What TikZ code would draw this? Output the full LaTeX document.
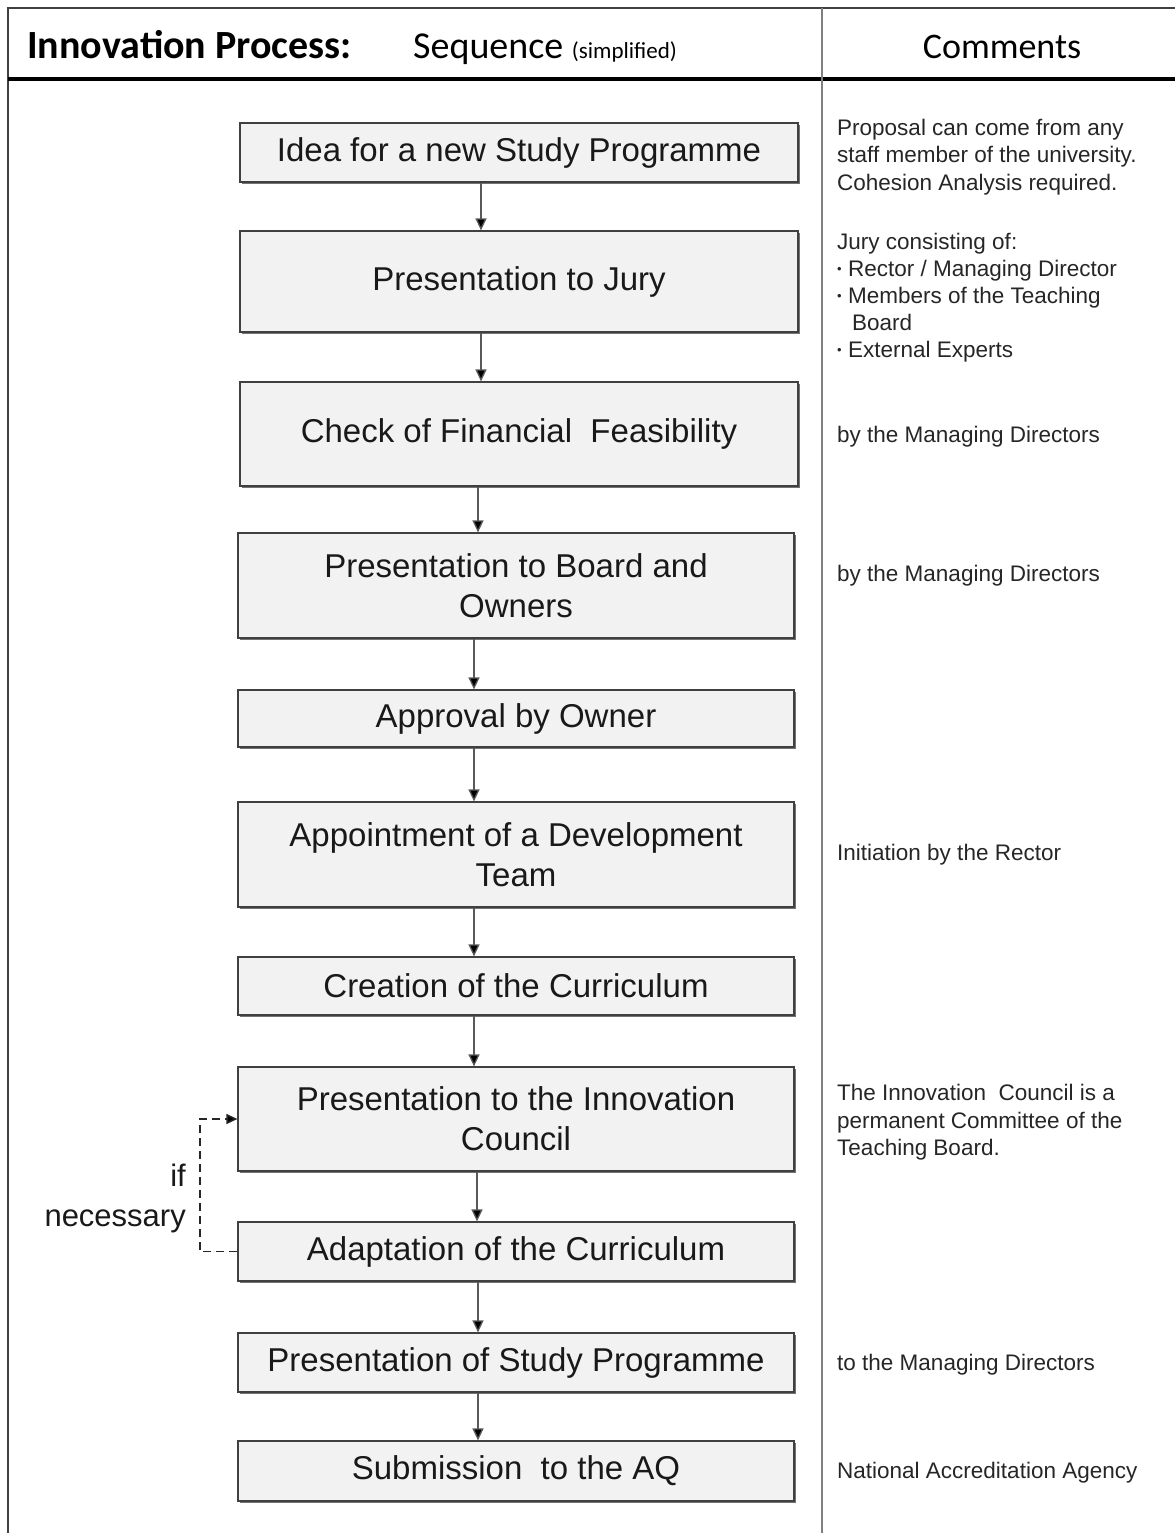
\documentclass[tikz,border=0pt]{standalone}
\usepackage{fontspec}
\setmainfont{Liberation Sans}
\newfontfamily\hdrfont{Carlito}
\usetikzlibrary{arrows.meta,shadows}
\newcommand{\smallbul}{\raisebox{0.25ex}{\fontsize{13}{13}\selectfont\textbullet}}
\begin{document}
\begin{tikzpicture}[x=1pt,y=-1pt,
  stepbox/.style={draw=black!75, line width=1.2pt, fill=black!5, inner sep=0pt,
    align=center, font=\fontsize{33}{40}\selectfont, text=black!90,
    drop shadow={shadow xshift=1.6pt, shadow yshift=-1.6pt, fill=black!55, opacity=1}},
  arr/.style={draw=black!65, line width=1.3pt, -{Triangle[length=12pt,width=11pt,fill=black]}},
  loop/.style={draw=black!85, line width=1.5pt, dash pattern=on 8pt off 5pt, -{Triangle[length=11pt,width=10pt,fill=black]}},
  cmt/.style={anchor=base west, inner sep=0pt, font=\fontsize{22.5}{27}\selectfont, text=black!85},
  frame/.style={draw=black!75, line width=2.5pt},
  ]
\useasboundingbox (0,0) rectangle (1175,1533);
% frame
\draw[frame] (8,1533) -- (8,8) -- (1175,8);
\draw[draw=black, line width=4.5pt] (8,79) -- (1175,79);
\draw[draw=black!50, line width=2pt] (822,8) -- (822,1533);
% header
\node[anchor=base west, inner sep=0pt, font=\hdrfont\bfseries\fontsize{40}{44}\selectfont] (h1) at (27,59) {Innovation Process:};
\node[anchor=base west, inner sep=0pt, font=\hdrfont\fontsize{38}{42}\selectfont] (h2) at (413,59) {Sequence {\fontsize{23}{25}\selectfont (simplified)}};
\node[anchor=base, inner sep=0pt, font=\hdrfont\fontsize{36}{40}\selectfont] (h3) at (1002,59) {Comments};
% steps
\node[stepbox, minimum width=558pt, minimum height=59pt] (n1) at (519,152.5) {Idea for a new Study Programme};
\node[stepbox, minimum width=558pt, minimum height=101pt] (n2) at (519,281.5) {Presentation to Jury};
\node[stepbox, minimum width=558pt, minimum height=104pt] (n3) at (519,434) {Check of Financial\ \ Feasibility};
\node[stepbox, minimum width=556pt, minimum height=105pt] (n4) at (516,585.5) {Presentation to Board and\\Owners};
\node[stepbox, minimum width=556pt, minimum height=57pt] (n5) at (516,718.5) {Approval by Owner};
\node[stepbox, minimum width=556pt, minimum height=105pt] (n6) at (516,854.5) {Appointment of a Development\\Team};
\node[stepbox, minimum width=556pt, minimum height=58pt] (n7) at (516,986) {Creation of the Curriculum};
\node[stepbox, minimum width=556pt, minimum height=104pt] (n8) at (516,1119) {Presentation to the Innovation\\Council};
\node[stepbox, minimum width=556pt, minimum height=59pt] (n9) at (516,1251.5) {Adaptation of the Curriculum};
\node[stepbox, minimum width=556pt, minimum height=59pt] (n10) at (516,1362.5) {Presentation of Study Programme};
\node[stepbox, minimum width=556pt, minimum height=60pt] (n11) at (516,1471) {Submission\ \ to the AQ};
% arrow x positions
\coordinate (xa) at (481,0);
\coordinate (xb) at (478,0);
\coordinate (xc) at (474,0);
\coordinate (xd) at (477,0);
\draw[arr] (n1.south -| xa) -- (n2.north -| xa);
\draw[arr] (n2.south -| xa) -- (n3.north -| xa);
\draw[arr] (n3.south -| xb) -- (n4.north -| xb);
\draw[arr] (n4.south -| xc) -- (n5.north -| xc);
\draw[arr] (n5.south -| xc) -- (n6.north -| xc);
\draw[arr] (n6.south -| xc) -- (n7.north -| xc);
\draw[arr] (n7.south -| xc) -- (n8.north -| xc);
\draw[arr] (n8.south -| xd) -- (n9.north -| xd);
\draw[arr] (n9.south -| xb) -- (n10.north -| xb);
\draw[arr] (n10.south -| xb) -- (n11.north -| xb);
% feedback loop
\coordinate (xl) at (200,0);
\draw[loop] (n9.west) -- (n9.west -| xl) |- (n8.west);
\node[anchor=east, align=right, inner sep=0pt, font=\fontsize{31}{40}\selectfont, text=black!90] (ifn) at (186,1198) {if\\necessary};
% comments
\node[cmt] (c1) at (837,136) {Proposal can come from any};
\node[cmt] (c2) at (837,163) {staff member of the university.};
\node[cmt] (c3) at (837,190) {Cohesion Analysis required.};
\node[cmt] (c4) at (837,249) {Jury consisting of:};
\node[cmt] (c5) at (837,276) {\smallbul\ Rector / Managing Director};
\node[cmt] (c6) at (837,303) {\smallbul\ Members of the Teaching};
\node[cmt] (c7) at (852,330) {Board};
\node[cmt] (c8) at (837,357) {\smallbul\ External Experts};
\node[cmt] (c9) at (837,442) {by the Managing Directors};
\node[cmt] (c10) at (837,581) {by the Managing Directors};
\node[cmt] (c11) at (837,860) {Initiation by the Rector};
\node[cmt] (c12) at (837,1100) {The Innovation\ \ Council is a};
\node[cmt] (c13) at (837,1128) {permanent Committee of the};
\node[cmt] (c14) at (837,1155) {Teaching Board.};
\node[cmt] (c15) at (837,1370) {to the Managing Directors};
\node[cmt] (c16) at (837,1478) {National Accreditation Agency};
\end{tikzpicture}
\end{document}
